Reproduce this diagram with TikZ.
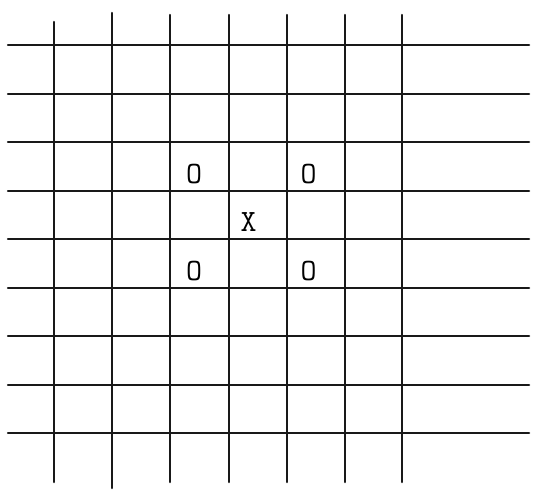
\documentclass[tikz,border=0pt]{standalone}
\usepackage{tikz}
\usepackage{xcolor}
\usepackage{fontspec}

\begin{document}
\begin{tikzpicture}[x=1pt,y=-1pt,line cap=round,
  gridline/.style={black!90,line width=2.5pt},
  playmark/.style={inner sep=0pt,font=\fontsize{31}{33}\selectfont\ttfamily}]
\useasboundingbox (0,0) rectangle (537,489);
% horizontal lines
\draw[gridline] (8,45) -- (529,45);
\draw[gridline] (8,94) -- (529,94);
\draw[gridline] (8,142) -- (529,142);
\draw[gridline] (8,191) -- (529,191);
\draw[gridline] (8,239) -- (529,239);
\draw[gridline] (8,288) -- (529,288);
\draw[gridline] (8,336) -- (529,336);
\draw[gridline] (8,385) -- (529,385);
\draw[gridline] (8,433) -- (529,433);
% vertical lines
\draw[gridline] (54,22) -- (54,482);
\draw[gridline] (112,13) -- (112,488);
\draw[gridline] (170,15) -- (170,482);
\draw[gridline] (229,15) -- (229,482);
\draw[gridline] (287,15) -- (287,482);
\draw[gridline] (345,15) -- (345,482);
\draw[gridline] (402,15) -- (402,482);
% marks
\node[playmark] (o1) at (194,174.5) {O};
\node[playmark] (o2) at (308.5,174.5) {O};
\node[playmark] (x) at (248.5,222.5) {X};
\node[playmark] (o3) at (194,271) {O};
\node[playmark] (o4) at (308.5,271) {O};
\end{tikzpicture}
\end{document}
